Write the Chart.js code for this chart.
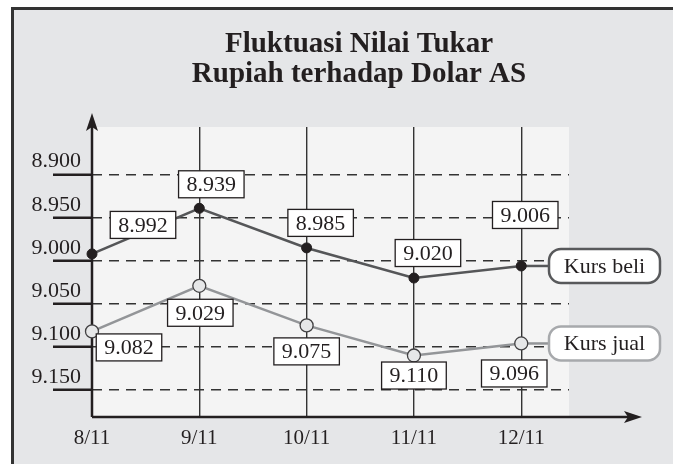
<!DOCTYPE html>
<html>
<head>
<meta charset="utf-8">
<title>Fluktuasi Nilai Tukar</title>
<script src="https://cdn.jsdelivr.net/npm/chart.js@4.4.1/dist/chart.umd.min.js"></script>
<style>
  html, body { margin: 0; padding: 0; background: #fff; }
  #wrap { width: 673px; height: 464px; }
</style>
</head>
<body>
<div id="wrap"><canvas id="kursChart" width="673" height="464"></canvas></div>
<script>
const dates = ["8/11", "9/11", "10/11", "11/11", "12/11"];
const kursBeli = [8.992, 8.939, 8.985, 9.020, 9.006];
const kursJual = [9.082, 9.029, 9.075, 9.110, 9.096];
const yTicks = [8.900, 8.950, 9.000, 9.050, 9.100, 9.150];
const seriesNames = ["Kurs beli", "Kurs jual"];
const titleLines = ["Fluktuasi Nilai Tukar", "Rupiah terhadap Dolar AS"];

const ink = "#231f20";
const serif = "'Liberation Serif', 'DejaVu Serif', serif";

// where each value box sits relative to its point (centre offset, px)
const beliBoxOffset = [[51, -29], [12, -24], [14, -25], [14, -25], [4, -51]];
const jualBoxOffset = [[37, 16], [1, 27], [0, 26], [0, 20], [-7, 30]];

function toPoints(values) {
  return values.map((v, i) => ({ x: i, y: v }));
}

function fmt(v) {
  return v.toFixed(3);
}

function valueBox(ctx, text, cx, cy) {
  ctx.font = "22px " + serif;
  const w = ctx.measureText(text).width + 16;
  const h = 27;
  ctx.fillStyle = "#ffffff";
  ctx.fillRect(cx - w / 2, cy - h / 2, w, h);
  ctx.strokeStyle = ink;
  ctx.lineWidth = 1.3;
  ctx.strokeRect(cx - w / 2, cy - h / 2, w, h);
  ctx.fillStyle = ink;
  ctx.textAlign = "center";
  ctx.textBaseline = "middle";
  ctx.fillText(text, cx, cy + 1);
}

function roundRect(ctx, x, y, w, h, r) {
  ctx.beginPath();
  ctx.moveTo(x + r, y);
  ctx.lineTo(x + w - r, y);
  ctx.arcTo(x + w, y, x + w, y + r, r);
  ctx.lineTo(x + w, y + h - r);
  ctx.arcTo(x + w, y + h, x + w - r, y + h, r);
  ctx.lineTo(x + r, y + h);
  ctx.arcTo(x, y + h, x, y + h - r, r);
  ctx.lineTo(x, y + r);
  ctx.arcTo(x, y, x + r, y, r);
  ctx.closePath();
}

const framePlugin = {
  id: "frame",
  beforeDraw(chart) {
    const ctx = chart.ctx;
    const a = chart.chartArea;
    ctx.save();
    ctx.fillStyle = "#ffffff";
    ctx.fillRect(0, 0, chart.width, chart.height);
    ctx.fillStyle = "#e5e6e8";
    ctx.fillRect(12, 8, chart.width - 12, chart.height - 8);
    ctx.fillStyle = "#333333";
    ctx.fillRect(12, 7, chart.width - 12, 3);
    ctx.fillRect(11, 7, 3, chart.height - 7);
    ctx.fillStyle = "#f4f4f4";
    ctx.fillRect(a.left, a.top, a.right - a.left, a.bottom - a.top);
    ctx.restore();
  },
  beforeDatasetsDraw(chart) {
    const ctx = chart.ctx;
    const a = chart.chartArea;
    ctx.save();
    // axes with arrows
    ctx.strokeStyle = ink;
    ctx.fillStyle = ink;
    ctx.lineWidth = 2.5;
    ctx.beginPath();
    ctx.moveTo(a.left, a.bottom);
    ctx.lineTo(a.left, 125);
    ctx.moveTo(a.left, a.bottom);
    ctx.lineTo(630, a.bottom);
    ctx.stroke();
    ctx.beginPath();
    ctx.moveTo(a.left, 113);
    ctx.lineTo(a.left + 6, 131);
    ctx.lineTo(a.left, 127);
    ctx.lineTo(a.left - 6, 131);
    ctx.closePath();
    ctx.fill();
    ctx.beginPath();
    ctx.moveTo(642, a.bottom);
    ctx.lineTo(624, a.bottom - 6);
    ctx.lineTo(628, a.bottom);
    ctx.lineTo(624, a.bottom + 6);
    ctx.closePath();
    ctx.fill();

    // series name tags at the end of each line
    chart.data.datasets.forEach((ds, di) => {
      const pts = chart.getDatasetMeta(di).data;
      const last = pts[pts.length - 1];
      const bx = 549, bw = 111, bh = 34;
      ctx.strokeStyle = ds.borderColor;
      ctx.lineWidth = 2.5;
      ctx.beginPath();
      ctx.moveTo(last.x, last.y);
      ctx.lineTo(bx, last.y);
      ctx.stroke();
      roundRect(ctx, bx, last.y - bh / 2, bw, bh, 12);
      ctx.fillStyle = "#ffffff";
      ctx.fill();
      ctx.strokeStyle = di === 0 ? "#58595b" : "#a7a9ac";
      ctx.lineWidth = 2.5;
      ctx.stroke();
      ctx.fillStyle = ink;
      ctx.font = "22px " + serif;
      ctx.textAlign = "center";
      ctx.textBaseline = "middle";
      ctx.fillText(ds.label, bx + bw / 2, last.y + 1);
    });
    ctx.restore();
  },
  afterDatasetsDraw(chart) {
    const ctx = chart.ctx;
    ctx.save();
    const beliPts = chart.getDatasetMeta(0).data;
    const jualPts = chart.getDatasetMeta(1).data;
    kursBeli.forEach((v, i) => {
      valueBox(ctx, fmt(v), beliPts[i].x + beliBoxOffset[i][0], beliPts[i].y + beliBoxOffset[i][1]);
    });
    kursJual.forEach((v, i) => {
      valueBox(ctx, fmt(v), jualPts[i].x + jualBoxOffset[i][0], jualPts[i].y + jualBoxOffset[i][1]);
    });
    ctx.restore();
  },
  afterDraw(chart) {
    const ctx = chart.ctx;
    ctx.save();
    ctx.fillStyle = ink;
    ctx.font = "bold 29px " + serif;
    ctx.textAlign = "center";
    ctx.textBaseline = "alphabetic";
    ctx.fillText(titleLines[0], 359, 52);
    ctx.fillText(titleLines[1], 359, 82);
    ctx.restore();
  }
};

new Chart(document.getElementById("kursChart"), {
  type: "line",
  data: {
    datasets: [{
      label: seriesNames[0],
      data: toPoints(kursBeli),
      borderColor: "#555658",
      borderWidth: 2.6,
      pointRadius: 5,
      pointBackgroundColor: ink,
      pointBorderColor: ink,
      pointBorderWidth: 1,
      clip: false
    }, {
      label: seriesNames[1],
      data: toPoints(kursJual),
      borderColor: "#939598",
      borderWidth: 2.6,
      pointRadius: 6.5,
      pointBackgroundColor: "#e6e7e8",
      pointBorderColor: "#414042",
      pointBorderWidth: 1.3,
      clip: false
    }]
  },
  options: {
    responsive: false,
    animation: false,
    devicePixelRatio: 1,
    layout: { padding: { top: 127, right: 104, left: 0, bottom: 0 } },
    plugins: {
      legend: { display: false },
      title: { display: false },
      tooltip: { enabled: false }
    },
    scales: {
      x: {
        type: "linear",
        min: 0,
        max: 4.445,
        afterFit: s => { s.height = 47; },
        afterBuildTicks: s => { s.ticks = dates.map((d, i) => ({ value: i })); },
        ticks: {
          callback: v => dates[v],
          color: ink,
          font: { family: serif, size: 21 },
          padding: 9,
          maxRotation: 0
        },
        grid: { color: "#333333", lineWidth: 1.4, drawTicks: false },
        border: { display: false }
      },
      y: {
        type: "linear",
        reverse: true,
        min: 8.8446,
        max: 9.1814,
        afterFit: s => { s.width = 92; },
        afterBuildTicks: s => { s.ticks = yTicks.map(v => ({ value: v })); },
        ticks: {
          callback: v => fmt(v),
          color: ink,
          font: { family: serif, size: 22 },
          padding: -28,
          labelOffset: -13
        },
        grid: {
          color: "#333333",
          lineWidth: 1.5,
          tickLength: 39,
          tickWidth: 2.6,
          tickColor: ink,
          tickBorderDash: [0, 0]
        },
        border: { display: false, dash: [10, 7] }
      }
    }
  },
  plugins: [framePlugin]
});
</script>
</body>
</html>
